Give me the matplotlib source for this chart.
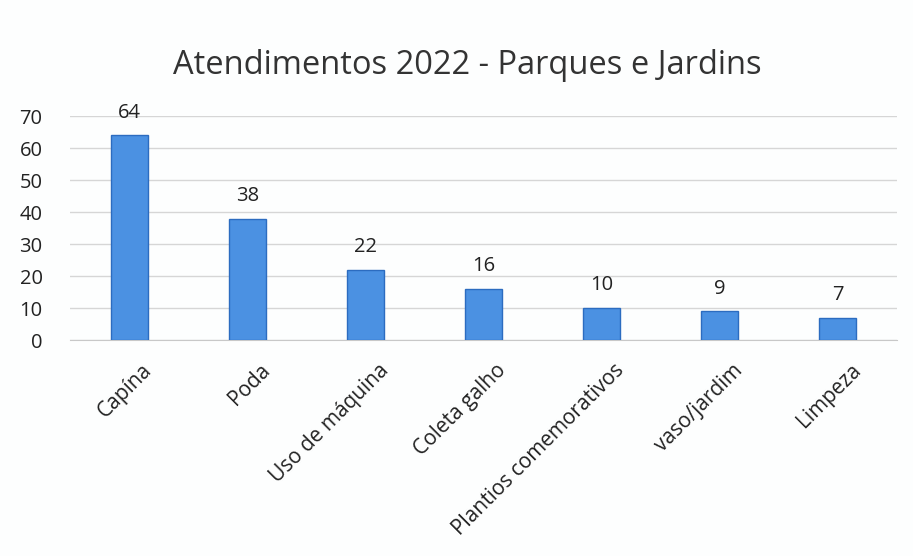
import matplotlib.pyplot as plt
from matplotlib.transforms import ScaledTranslation

categorias = ['Capína', 'Poda', 'Uso de máquina', 'Coleta galho',
              'Plantios comemorativos', 'vaso/jardim', 'Limpeza']
valores = [64, 38, 22, 16, 10, 9, 7]
yticks = [0, 10, 20, 30, 40, 50, 60, 70]

plt.rcParams['font.family'] = ['Open Sans', 'DejaVu Sans']

fig = plt.figure(figsize=(9.13, 5.56), dpi=100)
fig.patch.set_facecolor('#fdfefe')
ax = fig.add_axes([0.077, 0.388, 0.905, 0.403])
ax.set_facecolor('#fdfefe')

x = range(len(categorias))
bars = ax.bar(x, valores, width=0.31, color='#4b91e2', edgecolor='#2c6cc0', linewidth=1, zorder=3)

for b, v in zip(bars, valores):
    ax.text(b.get_x() + b.get_width() / 2, v + 4, str(v), ha='center', va='bottom',
            fontsize=14.5, color='#222222')

ax.set_xlim(-0.5, 6.5)
ax.set_ylim(0, 70)
ax.set_yticks(yticks)
ax.set_yticklabels([str(t) for t in yticks], fontsize=14.5, color='#222222')
ax.set_xticks(list(x))
ax.set_xticklabels(categorias, rotation=45, ha='right', rotation_mode='anchor',
                   fontsize=15, color='#222222')
ax.tick_params(axis='both', length=0)
ax.tick_params(axis='y', pad=20)
ax.tick_params(axis='x', pad=14)
# desloca os rótulos do eixo x um pouco para a direita
off = ScaledTranslation(9 / 72, 0, fig.dpi_scale_trans)
for lbl in ax.get_xticklabels():
    lbl.set_transform(lbl.get_transform() + off)
ax.yaxis.grid(True, color='#d6d6d6', linewidth=1, zorder=0)
for s in ['top', 'right', 'left']:
    ax.spines[s].set_visible(False)
ax.spines['bottom'].set_color('#c8c8c8')

fig.text(0.512, 0.882, 'Atendimentos 2022 - Parques e Jardins', ha='center', va='center',
         fontsize=23.5, color='#333333')

fig.savefig('out.png', dpi=100, facecolor=fig.get_facecolor())
